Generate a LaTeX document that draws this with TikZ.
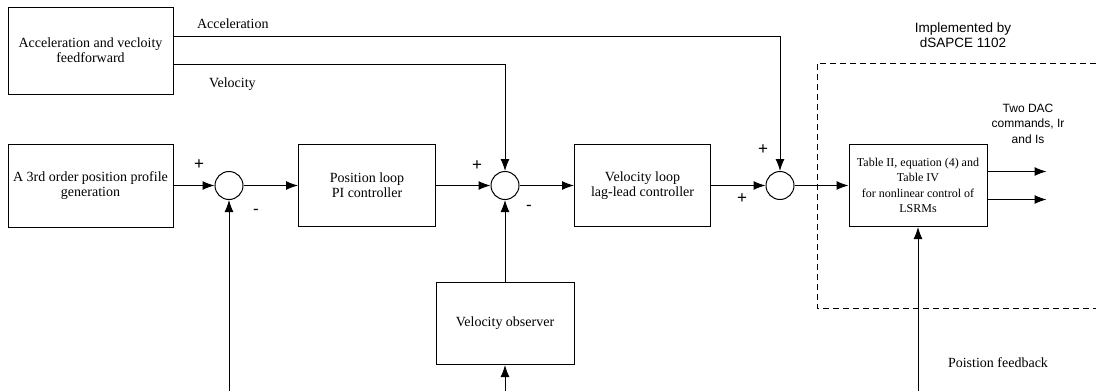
\documentclass[tikz,border=0pt]{standalone}
\usepackage{fontspec}
\setmainfont{Liberation Serif}
\setsansfont{Liberation Sans}
\usetikzlibrary{positioning}
\usetikzlibrary{arrows.meta,calc}

\tikzset{
  blk/.style={draw, align=center, minimum width=137pt, minimum height=82pt, inner sep=2pt, font=\fontsize{14}{15}\selectfont},
  adder/.style={draw, circle, inner sep=0pt, minimum size=28pt},
  sgn/.style={font=\fontsize{17}{17}\sffamily, inner sep=0pt},
  lbl/.style={font=\fontsize{14}{15}\selectfont, inner sep=0pt},
  note/.style={font=\fontsize{12}{15.5}\sffamily, align=center, inner sep=0pt},
  dbox/.style={dash pattern=on 6pt off 4pt},
}

\begin{document}
\begin{tikzpicture}[x=1pt,y=1pt,node distance=54.5pt,auto,>={Latex[length=12pt,width=9pt]},line width=1pt]
\path[use as bounding box] (0,0) rectangle (1096,-391);
\path node[blk, minimum width=165pt, minimum height=83pt] (gen) at (90.5,-185.5) {A 3rd order position profile\\generation};
\path node[adder, right=41pt of gen] (c1) {};
\path[->] (gen) edge (c1);
\path node[blk, right=of c1] (pi) {Position loop\\PI controller};
\path[->] (c1) edge (pi);
\path node[adder, right=of pi] (c2) {};
\path[->] (pi) edge (c2);
\path node[blk, minimum width=136pt, right=of c2] (vl) {Velocity loop\\lag-lead controller};
\path[->] (c2) edge (vl);
\path node[adder, right=of vl] (c3) {};
\path[->] (vl) edge (c3);
\path node[blk, minimum width=138pt, right=54pt of c3, font=\fontsize{12}{15.5}\selectfont] (nl) {Table II, equation (4) and\\Table IV\\for nonlinear control of\\LSRMs};
\path[->] (c3) edge (nl);
\path node[blk, minimum width=138pt, below=82pt of c2] (obs) {Velocity observer};
\path[->] (obs) edge (c2);
\path node[blk, minimum width=165pt, minimum height=87pt, above=49pt of gen] (ff) {Acceleration and vecloity\\feedforward};
% feedforward paths
\coordinate (acc) at ([yshift=14.5pt]ff.east);
\coordinate (vel) at ([yshift=-13.5pt]ff.east);
\path[->,draw] (acc) -| (c3);
\path[->,draw] (vel) -| (c2);
\path node[lbl, anchor=base west] (acctext) at ([shift={(23pt,8pt)}]acc) {Acceleration};
\path node[lbl, anchor=base west] (veltext) at ([shift={(35pt,-23pt)}]vel) {Velocity};
% feedback paths
\coordinate (base) at (0,-391);
\coordinate (fb1) at (c1 |- base);
\coordinate (fb2) at (obs |- base);
\coordinate (fb3) at (nl |- base);
\path[->,draw] (fb1) -- (c1);
\path[->,draw] (fb2) -- (obs);
\path[->,draw] (fb3) -- (nl);
\path node[lbl] (postext) at (998,-363) {Poistion feedback};
% outputs
\coordinate (o1) at ([shift={(59pt,14pt)}]nl.east);
\coordinate (o2) at ([shift={(59pt,-14pt)}]nl.east);
\path[->,draw] ([yshift=14pt]nl.east) -- (o1);
\path[->,draw] ([yshift=-14pt]nl.east) -- (o2);
\path node[note] (dac) at (1028,-123.5) {Two DAC\\commands, Ir\\and Is};
% signs
\path node[sgn] (p1) at ([shift={(-30pt,21pt)}]c1) {+};
\path node[sgn] (m1) at ([shift={(27pt,-26pt)}]c1) {-};
\path node[sgn] (p2) at ([shift={(-28pt,20pt)}]c2) {+};
\path node[sgn] (m2) at ([shift={(24pt,-22pt)}]c2) {-};
\path node[sgn] (p3) at ([shift={(-17pt,36pt)}]c3) {+};
\path node[sgn] (p4) at ([shift={(-38pt,-13pt)}]c3) {+};
% dSPACE region
\path[draw, dbox] (1096,-63) -| (817,-308) -- (1096,-308);
\path node[note, font=\fontsize{13.5}{15}\sffamily] (impl) at (963,-35.5) {Implemented by\\dSAPCE 1102};
\end{tikzpicture}
\end{document}
